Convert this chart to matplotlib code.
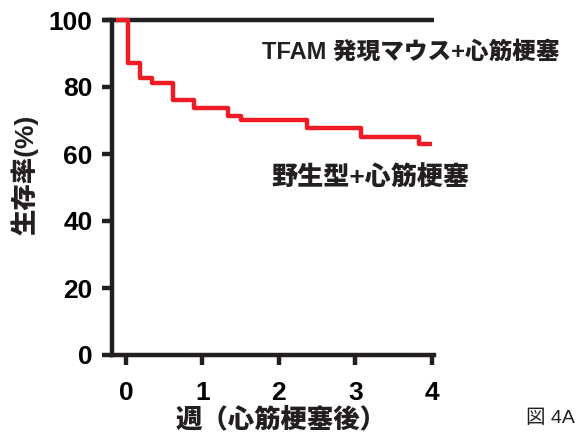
import matplotlib
matplotlib.use("Agg")
import matplotlib.pyplot as plt

# Data (weeks after MI, survival %)
tfam_t = [-0.30, 4.03]
tfam_s = [100, 100]
wt_t = [-0.13, 0.03, 0.18, 0.34, 0.61, 0.89, 1.34, 1.51, 2.37, 3.07, 3.83, 4.0]
wt_s = [100, 87.1, 82.6, 81.3, 76.1, 73.6, 71.3, 70.1, 67.7, 65.2, 62.9, 62.9]
xticks = [0, 1, 2, 3, 4]
yticks = [0, 20, 40, 60, 80, 100]
label_tfam = "TFAM 発現マウス+心筋梗塞"
label_wt = "野生型+心筋梗塞"
xlabel = "週（心筋梗塞後）"
ylabel = "生存率(%)"
fig_label = "図 4A"

W, H = 581, 438
fig = plt.figure(figsize=(W / 100, H / 100), dpi=100)
left, right, top, bottom = 112, 434, 20, 355
ax = fig.add_axes([left / W, 1 - bottom / H, (right - left) / W, (bottom - top) / H])

ax.plot(tfam_t, tfam_s, color="#231f20", lw=3.2, clip_on=False, zorder=3, solid_capstyle="butt")
ax.step(wt_t, wt_s, where="post", color="#ee1c25", lw=3.2, clip_on=False, zorder=4, solid_capstyle="butt")

ax.set_xlim(-0.183, 4.03)
ax.set_ylim(0, 100)
for s in ["top", "right"]:
    ax.spines[s].set_visible(False)
for s in ["left", "bottom"]:
    ax.spines[s].set_linewidth(3.2)
    ax.spines[s].set_color("#231f20")

num_font = ["Liberation Sans", "DejaVu Sans"]
cjk_font = ["Liberation Sans", "Noto Sans CJK JP", "DejaVu Sans"]

ax.set_xticks(xticks)
ax.set_yticks(yticks)
ax.set_xticklabels([str(v) for v in xticks], fontfamily=num_font, fontweight="bold", fontsize=19)
ax.set_yticklabels([str(v) for v in yticks], fontfamily=num_font, fontweight="bold", fontsize=19)
ax.tick_params(axis="x", length=7, width=3.2, color="#231f20", pad=12)
ax.tick_params(axis="y", length=7, width=3.2, color="#231f20", pad=7)

fig.text(262 / W, 1 - 52 / H, label_tfam, fontfamily=cjk_font, fontweight="heavy",
         fontsize=17, color="#231f20", ha="left", va="center")
fig.text(271 / W, 1 - 177 / H, label_wt, fontfamily=cjk_font, fontweight="heavy",
         fontsize=18.8, color="#231f20", ha="left", va="center")
fig.text(25 / W, 1 - 175 / H, ylabel, fontfamily=cjk_font, fontweight="heavy",
         fontsize=19, color="#231f20", ha="center", va="center", rotation=90)
fig.text(281 / W, 1 - 419 / H, xlabel, fontfamily=cjk_font, fontweight="heavy",
         fontsize=19, color="#231f20", ha="center", va="center")
fig.text(550 / W, 1 - 418 / H, fig_label, fontfamily=cjk_font, fontweight="normal",
         fontsize=14, color="#231f20", ha="center", va="center")

fig.savefig("out.png", dpi=100)
